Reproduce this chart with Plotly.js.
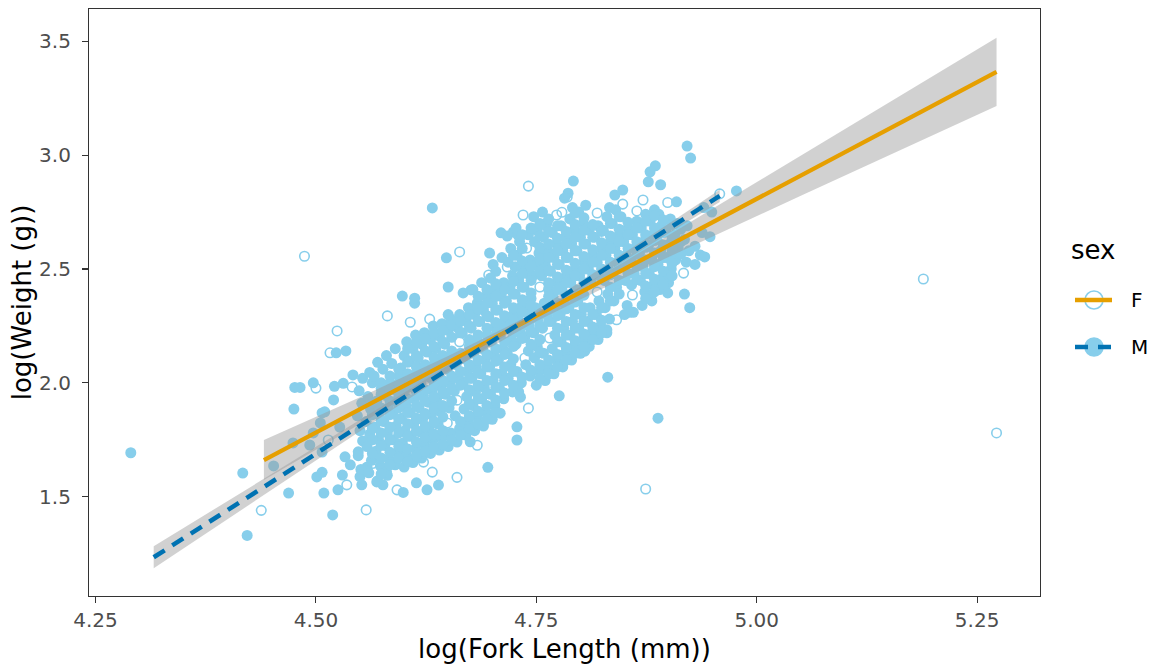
<!DOCTYPE html>
<html><head><meta charset="utf-8">
<script src="https://cdn.plot.ly/plotly-3.0.1.min.js"></script>
<style>html,body{margin:0;padding:0;background:#fff}#chart{width:1157px;height:668px}</style>
</head><body><div id="chart"></div>
<script>
const xTickVals = [4.25, 4.5, 4.75, 5.0, 5.25];
const xTickText = ["4.25", "4.50", "4.75", "5.00", "5.25"];
const yTickVals = [1.5, 2.0, 2.5, 3.0, 3.5];
const yTickText = ["1.5", "2.0", "2.5", "3.0", "3.5"];
const sexLevels = ["F", "M"];
const legendTitle = "sex";

// hollow points (F)
const femalePoints = [
 [4.438,1.440],[4.524,2.228],[4.581,2.294],[4.516,2.132],[4.500,1.977],[4.541,1.982],[4.557,1.442],[4.535,1.552],
 [4.564,1.646],[4.592,1.530],[4.514,1.749],[4.487,2.556],[4.660,1.585],[4.632,1.608],[4.622,1.652],[4.683,1.726],
 [4.741,1.889],[4.607,2.266],[4.629,2.280],[4.663,2.180],[4.660,1.924],[4.649,1.824],[4.765,2.197],[4.737,2.109],
 [4.741,2.864],[4.735,2.737],[4.663,2.575],[4.739,2.592],[4.696,2.474],[4.717,2.509],[4.773,2.737],[4.785,2.816],
 [4.779,2.749],[4.819,2.746],[4.848,2.785],[4.871,2.803],[4.899,2.792],[4.958,2.830],[4.864,2.755],[4.917,2.482],
 [4.859,2.386],[4.841,2.277],[4.754,2.421],[4.819,2.399],[4.874,1.534],[5.189,2.456],[5.272,1.780]
];

// filled points (M): scattered ones
const maleOuter = [
 [4.290,1.693],[4.417,1.604],[4.422,1.330],[4.469,1.516],[4.452,1.635],[4.474,1.736],[4.476,1.980],[4.482,1.980],
 [4.497,2.000],[4.475,1.885],[4.521,1.985],[4.531,1.998],[4.542,2.035],[4.553,2.020],[4.561,2.046],[4.523,2.132],
 [4.534,2.140],[4.519,1.420],[4.509,1.516],[4.525,1.530],[4.501,1.587],[4.507,1.607],[4.533,1.675],[4.539,1.640],
 [4.530,1.595],[4.550,1.588],[4.552,1.552],[4.548,1.697],[4.558,1.630],[4.569,1.565],[4.576,1.552],[4.581,1.594],
 [4.497,1.780],[4.493,1.727],[4.507,1.696],[4.507,1.868],[4.505,1.824],[4.520,1.925],[4.510,1.873],[4.527,1.806],
 [4.695,1.629],[4.639,1.551],[4.599,1.519],[4.626,1.530],[4.614,1.561],[4.675,1.741],[4.728,1.807],[4.728,1.749],
 [4.776,1.943],[4.732,1.937],[4.709,1.867],[4.669,1.828],[4.831,2.025],[4.888,1.845],[4.805,2.139],[4.830,2.233],
 [4.856,2.310],[4.881,2.360],[4.899,2.395],[4.918,2.390],[4.924,2.330],[4.936,2.561],[4.941,2.553],[4.947,2.642],
 [4.949,2.750],[4.940,2.770],[4.938,2.660],[4.930,2.600],[4.930,2.520],[4.977,2.843],[4.909,2.795],[4.921,3.040],
 [4.925,2.987],[4.792,2.886],[4.885,2.953],[4.879,2.927],[4.877,2.883],[4.891,2.870],[4.848,2.847],[4.839,2.825],
 [4.786,2.833],[4.782,2.811],[4.762,2.702],[4.746,2.676],[4.710,2.659],[4.717,2.645],[4.724,2.663],[4.729,2.650],
 [4.726,2.510],[4.745,2.517],[4.632,2.768],[4.648,2.549],[4.650,2.421],[4.667,2.395],[4.676,2.408],[4.697,2.400],
 [4.612,2.350],[4.598,2.381],[4.612,2.372],[4.637,2.211],[4.650,2.300]
];

// filled points (M): dense core, read column by column
const maleCore = [
 [4.551,1.62],[4.548,1.68],[4.553,1.745],[4.550,1.79],[4.547,1.855],[4.552,1.91],[4.549,1.965],
 [4.560,1.605],[4.563,1.66],[4.558,1.72],[4.561,1.775],[4.557,1.83],[4.562,1.885],[4.559,1.94],[4.564,2.00],
 [4.570,1.57],[4.573,1.635],[4.568,1.70],[4.571,1.75],[4.567,1.805],[4.572,1.86],[4.569,1.92],[4.574,1.975],[4.566,2.03],[4.570,2.09],
 [4.580,1.61],[4.583,1.665],[4.578,1.725],[4.581,1.78],[4.577,1.83],[4.582,1.89],[4.579,1.945],[4.584,2.00],[4.576,2.06],[4.580,2.12],
 [4.590,1.64],[4.593,1.695],[4.588,1.75],[4.591,1.81],[4.587,1.865],[4.592,1.915],[4.589,1.97],[4.594,2.03],[4.586,2.085],[4.590,2.15],
 [4.600,1.63],[4.603,1.68],[4.598,1.735],[4.601,1.79],[4.597,1.845],[4.602,1.90],[4.599,1.955],[4.604,2.01],[4.596,2.065],[4.600,2.12],[4.603,2.18],
 [4.610,1.65],[4.613,1.71],[4.608,1.765],[4.611,1.82],[4.607,1.87],[4.612,1.93],[4.609,1.985],[4.614,2.04],[4.606,2.095],[4.610,2.15],[4.613,2.21],
 [4.620,1.67],[4.623,1.73],[4.618,1.785],[4.621,1.84],[4.617,1.89],[4.622,1.945],[4.619,2.00],[4.624,2.055],[4.616,2.11],[4.620,2.17],[4.623,2.22],
 [4.630,1.69],[4.633,1.75],[4.628,1.80],[4.631,1.86],[4.627,1.915],[4.632,1.97],[4.629,2.025],[4.634,2.08],[4.626,2.135],[4.630,2.19],[4.633,2.25],
 [4.640,1.705],[4.643,1.76],[4.638,1.82],[4.641,1.875],[4.637,1.93],[4.642,1.985],[4.639,2.04],[4.644,2.09],[4.636,2.15],[4.640,2.205],[4.643,2.26],
 [4.650,1.72],[4.653,1.78],[4.651,1.89],[4.647,1.95],[4.652,2.00],[4.649,2.06],[4.654,2.11],[4.646,2.17],[4.650,2.23],[4.653,2.28],
 [4.660,1.74],[4.663,1.80],[4.658,1.855],[4.657,1.965],[4.662,2.02],[4.659,2.08],[4.664,2.13],[4.660,2.245],[4.663,2.30],
 [4.670,1.77],[4.673,1.83],[4.668,1.885],[4.671,1.94],[4.667,1.995],[4.672,2.05],[4.669,2.105],[4.674,2.16],[4.666,2.22],[4.670,2.275],[4.673,2.33],
 [4.680,1.79],[4.683,1.85],[4.678,1.90],[4.681,1.96],[4.677,2.02],[4.682,2.07],[4.679,2.13],[4.684,2.18],[4.676,2.24],[4.680,2.30],[4.683,2.35],[4.678,2.41],
 [4.690,1.81],[4.693,1.87],[4.688,1.93],[4.691,1.98],[4.687,2.04],[4.692,2.10],[4.689,2.15],[4.694,2.21],[4.686,2.27],[4.690,2.32],[4.693,2.38],[4.688,2.44],
 [4.700,1.84],[4.703,1.90],[4.698,1.95],[4.701,2.01],[4.697,2.07],[4.702,2.12],[4.699,2.18],[4.704,2.24],[4.696,2.29],[4.700,2.35],[4.703,2.41],[4.698,2.46],[4.701,2.52],[4.697,2.57],
 [4.713,1.93],[4.708,1.98],[4.711,2.04],[4.707,2.10],[4.712,2.15],[4.709,2.21],[4.714,2.27],[4.706,2.32],[4.710,2.38],[4.713,2.44],[4.711,2.55],
 [4.723,1.96],[4.718,2.02],[4.721,2.08],[4.717,2.13],[4.722,2.19],[4.719,2.25],[4.724,2.30],[4.716,2.36],[4.720,2.42],[4.723,2.47],[4.718,2.53],[4.721,2.59],
 [4.730,1.96],[4.733,2.00],[4.728,2.05],[4.727,2.17],[4.732,2.22],[4.729,2.28],[4.734,2.34],[4.726,2.39],[4.730,2.45],[4.733,2.51],[4.728,2.56],[4.731,2.62],[4.727,2.68],
 [4.743,2.03],[4.738,2.08],[4.741,2.14],[4.737,2.20],[4.742,2.25],[4.739,2.31],[4.744,2.37],[4.736,2.42],[4.740,2.48],[4.743,2.54],[4.741,2.65],
 [4.750,1.99],[4.753,2.05],[4.748,2.11],[4.751,2.16],[4.747,2.22],[4.752,2.28],[4.749,2.33],[4.746,2.47],[4.750,2.52],[4.753,2.57],[4.748,2.62],[4.751,2.67],[4.747,2.73],
 [4.760,2.01],[4.763,2.07],[4.758,2.13],[4.757,2.24],[4.762,2.30],[4.759,2.35],[4.764,2.41],[4.756,2.47],[4.760,2.52],[4.763,2.58],[4.758,2.64],[4.761,2.69],[4.757,2.75],
 [4.770,2.04],[4.773,2.10],[4.768,2.15],[4.771,2.21],[4.767,2.27],[4.772,2.32],[4.769,2.38],[4.774,2.44],[4.766,2.49],[4.770,2.55],[4.773,2.61],[4.768,2.66],
 [4.780,2.07],[4.783,2.13],[4.778,2.18],[4.781,2.24],[4.777,2.30],[4.782,2.35],[4.779,2.41],[4.784,2.47],[4.776,2.52],[4.780,2.58],[4.783,2.64],[4.778,2.69],
 [4.790,2.10],[4.793,2.16],[4.788,2.21],[4.791,2.27],[4.787,2.33],[4.792,2.38],[4.789,2.44],[4.794,2.50],[4.786,2.55],[4.790,2.61],[4.793,2.67],[4.788,2.72],[4.791,2.77],
 [4.800,2.13],[4.803,2.19],[4.798,2.24],[4.801,2.30],[4.797,2.36],[4.802,2.41],[4.799,2.47],[4.804,2.53],[4.796,2.58],[4.800,2.64],[4.803,2.70],[4.798,2.75],
 [4.810,2.16],[4.813,2.22],[4.808,2.27],[4.811,2.33],[4.812,2.45],[4.809,2.50],[4.814,2.56],[4.806,2.61],[4.810,2.67],[4.806,2.78],
 [4.820,2.19],[4.823,2.25],[4.818,2.30],[4.821,2.36],[4.822,2.47],[4.819,2.53],[4.824,2.59],[4.816,2.64],[4.820,2.69],
 [4.830,2.22],[4.833,2.28],[4.828,2.33],[4.831,2.39],[4.827,2.45],[4.832,2.50],[4.829,2.56],[4.834,2.62],[4.826,2.67],[4.830,2.73],[4.833,2.77],
 [4.838,2.36],[4.841,2.42],[4.837,2.48],[4.842,2.53],[4.839,2.59],[4.844,2.65],[4.836,2.70],[4.840,2.76],
 [4.850,2.30],[4.853,2.34],[4.851,2.45],[4.847,2.51],[4.852,2.56],[4.849,2.62],[4.854,2.68],[4.846,2.73],
 [4.860,2.31],[4.858,2.43],[4.861,2.48],[4.857,2.54],[4.862,2.59],[4.859,2.65],[4.864,2.71],
 [4.870,2.34],[4.873,2.40],[4.868,2.45],[4.871,2.51],[4.867,2.57],[4.872,2.62],[4.869,2.68],[4.874,2.74],
 [4.880,2.37],[4.883,2.43],[4.878,2.48],[4.881,2.54],[4.877,2.60],[4.882,2.65],[4.879,2.71],[4.884,2.76],
 [4.890,2.41],[4.893,2.46],[4.888,2.52],[4.891,2.58],[4.887,2.63],[4.892,2.69],[4.889,2.74],
 [4.900,2.44],[4.903,2.50],[4.898,2.55],[4.901,2.61],[4.897,2.67],[4.902,2.72],
 [4.908,2.54],[4.911,2.59],[4.907,2.65],[4.910,2.70],
 [4.920,2.53],[4.923,2.58],[4.918,2.63],[4.921,2.69]
];

// filled points (M): points filling the gaps of the core
const maleCoreGaps = [
 [4.564,1.69],[4.564,1.75],[4.564,1.80],[4.564,1.86],[4.564,1.91],
 [4.574,1.60],[4.574,1.67],[4.574,1.725],[4.574,1.78],[4.574,1.835],[4.574,1.89],[4.574,1.95],[4.574,2.00],
 [4.584,1.64],[4.584,1.695],[4.584,1.75],[4.584,1.805],[4.584,1.86],[4.584,1.92],[4.584,1.97],[4.584,2.03],
 [4.594,1.67],[4.594,1.72],[4.594,1.78],[4.594,1.84],[4.594,1.89],[4.594,1.94],[4.594,2.00],[4.594,2.06],
 [4.604,1.655],[4.604,1.71],[4.604,1.765],[4.604,1.82],[4.604,1.87],[4.604,1.93],[4.604,1.98],[4.604,2.04],[4.604,2.09],[4.604,2.15],
 [4.614,1.68],[4.614,1.74],[4.614,1.79],[4.614,1.845],[4.614,1.90],[4.614,1.96],[4.614,2.01],[4.614,2.07],[4.614,2.12],[4.614,2.18],
 [4.624,1.70],[4.624,1.76],[4.624,1.81],[4.624,1.865],[4.624,1.92],[4.624,1.97],[4.624,2.03],[4.624,2.08],[4.624,2.14],[4.624,2.195],
 [4.634,1.72],[4.634,1.775],[4.634,1.83],[4.634,1.89],[4.634,1.94],[4.634,2.00],[4.634,2.05],[4.634,2.11],[4.634,2.16],[4.634,2.22],
 [4.644,1.73],[4.644,1.79],[4.644,1.85],[4.644,1.90],[4.644,1.96],[4.644,2.01],[4.644,2.065],[4.644,2.12],[4.644,2.18],[4.644,2.23],
 [4.654,1.75],[4.654,1.92],[4.654,1.975],[4.654,2.03],[4.654,2.085],[4.654,2.14],[4.654,2.20],[4.654,2.255],
 [4.664,1.77],[4.664,1.83],[4.664,1.99],[4.664,2.05],[4.664,2.105],[4.664,2.22],[4.664,2.27],
 [4.674,1.80],[4.674,1.855],[4.674,1.91],[4.674,1.97],[4.674,2.02],[4.674,2.08],[4.674,2.13],[4.674,2.19],[4.674,2.25],[4.674,2.30],
 [4.684,1.82],[4.684,1.875],[4.684,1.93],[4.684,1.99],[4.684,2.045],[4.684,2.10],[4.684,2.155],[4.684,2.21],[4.684,2.27],[4.684,2.325],[4.684,2.38],
 [4.694,1.84],[4.694,1.90],[4.694,1.955],[4.694,2.01],[4.694,2.07],[4.694,2.125],[4.694,2.18],[4.694,2.24],[4.694,2.295],[4.694,2.35],[4.694,2.41],
 [4.704,1.87],[4.704,1.925],[4.704,1.98],[4.704,2.04],[4.704,2.095],[4.704,2.15],[4.704,2.21],[4.704,2.265],[4.704,2.32],[4.704,2.38],[4.704,2.435],[4.704,2.49],
 [4.714,1.955],[4.714,2.01],[4.714,2.07],[4.714,2.125],[4.714,2.18],[4.714,2.24],[4.714,2.295],[4.714,2.35],[4.714,2.41],
 [4.724,1.99],[4.724,2.05],[4.724,2.105],[4.724,2.16],[4.724,2.22],[4.724,2.275],[4.724,2.33],[4.724,2.39],[4.724,2.445],[4.724,2.56],
 [4.734,2.025],[4.734,2.195],[4.734,2.25],[4.734,2.31],[4.734,2.365],[4.734,2.42],[4.734,2.48],[4.734,2.535],[4.734,2.59],[4.734,2.65],
 [4.744,2.055],[4.744,2.17],[4.744,2.225],[4.744,2.28],[4.744,2.34],[4.744,2.395],[4.744,2.45],[4.744,2.51],[4.744,2.68],
 [4.754,2.02],[4.754,2.08],[4.754,2.135],[4.754,2.19],[4.754,2.25],[4.754,2.305],[4.754,2.49],[4.754,2.545],[4.754,2.595],[4.754,2.645],[4.754,2.70],
 [4.764,2.04],[4.764,2.10],[4.764,2.27],[4.764,2.325],[4.764,2.38],[4.764,2.44],[4.764,2.495],[4.764,2.55],[4.764,2.61],[4.764,2.665],[4.764,2.72],
 [4.774,2.07],[4.774,2.125],[4.774,2.18],[4.774,2.24],[4.774,2.295],[4.774,2.35],[4.774,2.41],[4.774,2.465],[4.774,2.52],[4.774,2.58],[4.774,2.635],[4.774,2.69],
 [4.784,2.10],[4.784,2.155],[4.784,2.21],[4.784,2.27],[4.784,2.325],[4.784,2.38],[4.784,2.44],[4.784,2.495],[4.784,2.55],[4.784,2.61],[4.784,2.665],
 [4.794,2.13],[4.794,2.185],[4.794,2.24],[4.794,2.30],[4.794,2.355],[4.794,2.41],[4.794,2.47],[4.794,2.525],[4.794,2.58],[4.794,2.64],[4.794,2.695],[4.794,2.745],
 [4.804,2.16],[4.804,2.215],[4.804,2.27],[4.804,2.33],[4.804,2.385],[4.804,2.44],[4.804,2.50],[4.804,2.555],[4.804,2.61],[4.804,2.67],[4.804,2.725],
 [4.814,2.19],[4.814,2.245],[4.814,2.30],[4.814,2.475],[4.814,2.53],[4.814,2.585],[4.814,2.64],[4.814,2.695],
 [4.824,2.22],[4.824,2.275],[4.824,2.33],[4.824,2.50],[4.824,2.56],[4.824,2.615],[4.824,2.665],
 [4.834,2.36],[4.834,2.42],[4.834,2.475],[4.834,2.53],[4.834,2.59],[4.834,2.645],[4.834,2.70],
 [4.844,2.39],[4.844,2.45],[4.844,2.505],[4.844,2.56],[4.844,2.62],[4.844,2.675],[4.844,2.73],
 [4.854,2.48],[4.854,2.535],[4.854,2.59],[4.854,2.65],[4.854,2.705],
 [4.864,2.455],[4.864,2.51],[4.864,2.565],[4.864,2.62],[4.864,2.68],
 [4.874,2.37],[4.874,2.425],[4.874,2.48],[4.874,2.54],[4.874,2.595],[4.874,2.65],[4.874,2.71],
 [4.884,2.40],[4.884,2.455],[4.884,2.51],[4.884,2.57],[4.884,2.625],[4.884,2.68],[4.884,2.735],
 [4.894,2.435],[4.894,2.49],[4.894,2.55],[4.894,2.605],[4.894,2.66],[4.894,2.715],
 [4.904,2.47],[4.904,2.525],[4.904,2.58],[4.904,2.64],[4.904,2.695],
 [4.914,2.565],[4.914,2.62],[4.914,2.675]
];

// fitted lines and confidence bands
const fitFx = [4.441, 5.272];
const fitFy = [1.661, 3.366];
const bandFx = [4.441, 4.55, 4.65, 4.75, 4.85, 4.95, 5.05, 5.15, 5.272];
const bandFlo = [1.573, 1.819, 2.050, 2.271, 2.462, 2.643, 2.822, 3.001, 3.216];
const bandFhi = [1.749, 1.937, 2.118, 2.311, 2.532, 2.765, 2.998, 3.233, 3.516];

const fitMx = [4.316, 4.958];
const fitMy = [1.234, 2.821];
const bandMx = [4.316, 4.40, 4.50, 4.60, 4.70, 4.80, 4.90, 4.958];
const bandMlo = [1.186, 1.403, 1.660, 1.916, 2.170, 2.416, 2.657, 2.794];
const bandMhi = [1.282, 1.481, 1.718, 1.956, 2.196, 2.444, 2.699, 2.848];

const SKY = '#87CEEB', ORANGE = '#E69F00', BLUE = '#0072B2';
const BANDFILL = 'rgba(153,153,153,0.45)';
const FONT = 'DejaVu Sans, Verdana, sans-serif';

const malePoints = maleOuter.concat(maleCore, maleCoreGaps);

function band(xs, lo, hi) {
  return { x: xs.concat(xs.slice().reverse()), y: hi.concat(lo.slice().reverse()) };
}
const bF = band(bandFx, bandFlo, bandFhi);
const bM = band(bandMx, bandMlo, bandMhi);

const traces = [
  {type:'scatter', mode:'markers', name:sexLevels[1], x: malePoints.map(p=>p[0]), y: malePoints.map(p=>p[1]),
   marker:{symbol:'circle', size:11, color:SKY, line:{width:0}}, showlegend:false, hoverinfo:'skip'},
  {type:'scatter', mode:'markers', name:sexLevels[0], x: femalePoints.map(p=>p[0]), y: femalePoints.map(p=>p[1]),
   marker:{symbol:'circle-open', size:9.5, color:SKY, line:{width:1.6, color:SKY}}, showlegend:false, hoverinfo:'skip'},
  {type:'scatter', mode:'lines', x:bF.x, y:bF.y, fill:'toself', fillcolor:BANDFILL, line:{width:0}, showlegend:false, hoverinfo:'skip'},
  {type:'scatter', mode:'lines', x:fitFx, y:fitFy, line:{color:ORANGE, width:4.3}, showlegend:false, hoverinfo:'skip'},
  {type:'scatter', mode:'lines', x:bM.x, y:bM.y, fill:'toself', fillcolor:BANDFILL, line:{width:0}, showlegend:false, hoverinfo:'skip'},
  {type:'scatter', mode:'lines', x:fitMx, y:fitMy, line:{color:BLUE, width:4.5, dash:'13px,9px'}, showlegend:false, hoverinfo:'skip'}
];

// legend drawn in pixel positions of the reference
const PL = 89, PR = 1040, PT = 9, PB = 596;
const px = v => (v - PL) / (PR - PL);
const py = v => (PB - v) / (PB - PT);
const shapes = [
  {type:'circle', xref:'paper', yref:'paper', x0:px(1094-9), x1:px(1094+9), y0:py(300+9), y1:py(300-9),
   line:{color:SKY, width:1.6}, fillcolor:'rgba(0,0,0,0)'},
  {type:'line', xref:'paper', yref:'paper', x0:px(1075), x1:px(1112), y0:py(300), y1:py(300),
   line:{color:ORANGE, width:4.3}},
  {type:'circle', xref:'paper', yref:'paper', x0:px(1094-9.8), x1:px(1094+9.8), y0:py(347+9.8), y1:py(347-9.8),
   line:{width:0}, fillcolor:SKY},
  {type:'line', xref:'paper', yref:'paper', x0:px(1075), x1:px(1112), y0:py(347), y1:py(347),
   line:{color:BLUE, width:4.5, dash:'13px,10px'}}
];
const annotations = [
  {xref:'paper', yref:'paper', x:px(1069), y:py(250), xanchor:'left', yanchor:'middle', showarrow:false,
   text:legendTitle, font:{family:FONT, size:26, color:'#000'}},
  {xref:'paper', yref:'paper', x:px(1129), y:py(300), xanchor:'left', yanchor:'middle', showarrow:false,
   text:sexLevels[0], font:{family:FONT, size:20, color:'#000'}},
  {xref:'paper', yref:'paper', x:px(1129), y:py(347), xanchor:'left', yanchor:'middle', showarrow:false,
   text:sexLevels[1], font:{family:FONT, size:20, color:'#000'}}
];

const axisCommon = {
  showgrid:false, zeroline:false, showline:true, mirror:true, linecolor:'#333333', linewidth:1.1,
  ticks:'outside', ticklen:6, tickwidth:1.1, tickcolor:'#333333', automargin:false,
  tickfont:{family:FONT, size:20, color:'#4D4D4D'}
};

const layout = {
  width:1157, height:668,
  margin:{l:PL, r:1157-PR, t:PT, b:668-PB, autoexpand:false},
  paper_bgcolor:'#ffffff', plot_bgcolor:'#ffffff',
  font:{family:FONT, color:'#000000'},
  showlegend:false,
  xaxis: Object.assign({}, axisCommon, {
    range:[4.2426, 5.3213], tickmode:'array', tickvals:xTickVals, ticktext:xTickText,
    title:{text:'log(Fork Length (mm))', font:{family:FONT, size:26, color:'#000'}, standoff:8}
  }),
  yaxis: Object.assign({}, axisCommon, {
    range:[1.0639, 3.6419], tickmode:'array', tickvals:yTickVals, ticktext:yTickText, ticklabelstandoff:7,
    title:{text:'log(Weight (g))', font:{family:FONT, size:26, color:'#000'}, standoff:0}
  }),
  shapes:shapes,
  annotations:annotations
};

Plotly.newPlot('chart', traces, layout, {staticPlot:true, displayModeBar:false});
</script>
</body></html>
